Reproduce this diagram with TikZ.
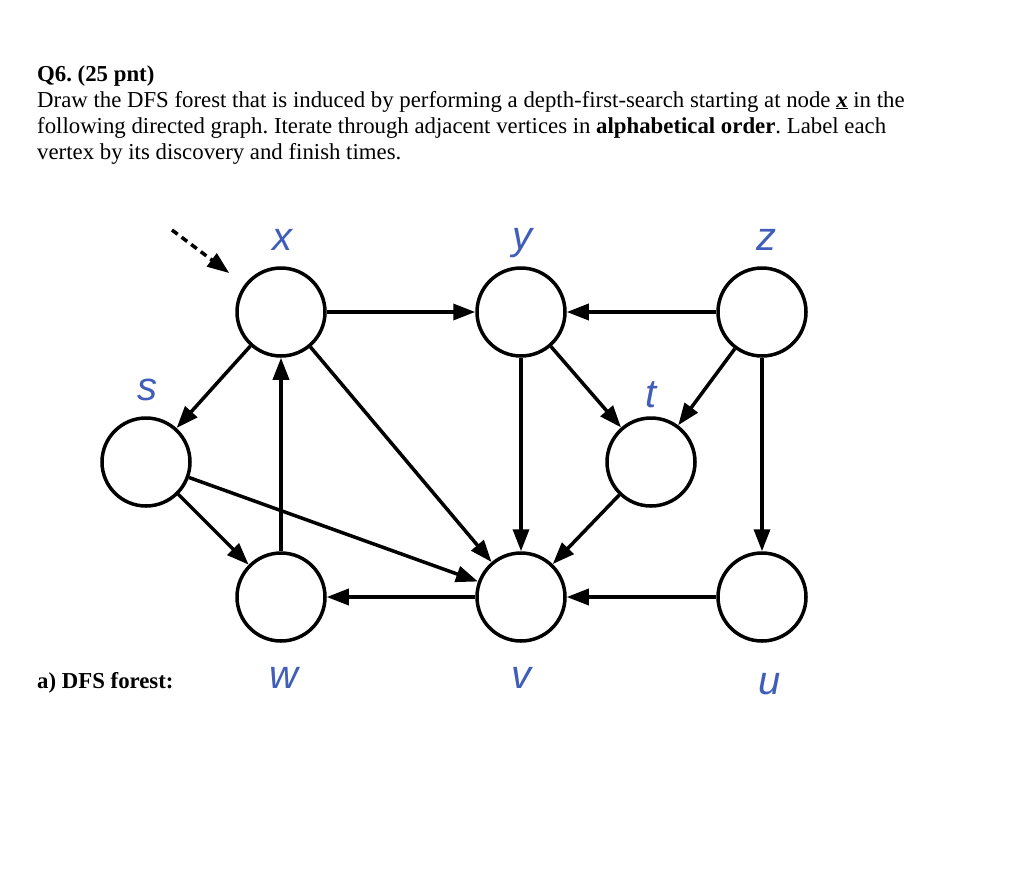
\documentclass[tikz,border=0pt]{standalone}
\usepackage{fontspec}
\setmainfont{Liberation Serif}
\newfontfamily\labelfont{Liberation Sans}
\usetikzlibrary{arrows.meta}
\definecolor{labelblue}{HTML}{3F5DB9}
\frenchspacing

\begin{document}
\begin{tikzpicture}[x=1pt,y=-1pt,>={Triangle[length=22pt,width=16pt]},
  vertex/.style={draw,circle,line width=3.5pt,minimum size=88pt,inner sep=0pt},
  edge/.style={->,line width=3.5pt},
  vlabel/.style={anchor=base,text=labelblue,inner sep=0pt,font=\labelfont\itshape\fontsize{40}{40}\selectfont},
  qtext/.style={anchor=base west,inner sep=0pt,font=\fontsize{22.8}{26}\selectfont}]
\useasboundingbox (0,0) rectangle (1024,876);

% question text
\node[qtext] (q1) at (37,81) {\textbf{Q6. (25 pnt)}};
\node[qtext] (q2) at (37,107) {Draw the DFS forest that is induced by performing a depth-first-search starting at node \underline{\textbf{\textit{x}}} in the};
\node[qtext] (q3) at (37,133) {following directed graph. Iterate through adjacent vertices in \textbf{alphabetical order}. Label each};
\node[qtext] (q4) at (37,159) {vertex by its discovery and finish times.};
\node[qtext] (qa) at (37,688) {\textbf{a) DFS forest:}};

% vertices
\node[vertex] (x) at (281,312) {};
\node[vertex] (y) at (521,312) {};
\node[vertex] (z) at (762,312) {};
\node[vertex] (s) at (146,462) {};
\node[vertex] (t) at (651,462) {};
\node[vertex] (w) at (281,597) {};
\node[vertex] (v) at (521,597) {};
\node[vertex] (u) at (762,597) {};

% vertex names
\node[vlabel] (lx) at (282,250) {x};
\node[vlabel] (ly) at (522,249) {y};
\node[vlabel] (lz) at (766,250) {z};
\node[vlabel] (ls) at (147,400) {s};
\node[vlabel] (lt) at (651,407) {t};
\node[vlabel] (lw) at (284,688) {w};
\node[vlabel] (lv) at (521,688) {v};
\node[vlabel] (lu) at (770,694) {u};

% start marker
\coordinate (start) at (172,230);
\draw[->,line width=3.5pt,dash pattern=on 7pt off 5pt,shorten >=19pt] (start) -- (x);

% edges
\draw[edge] (x)--(y);
\draw[edge] (z)--(y);
\draw[edge] (x)--(s);
\draw[edge] (w)--(x);
\draw[edge] (x)--(v);
\draw[edge] (y)--(v);
\draw[edge] (y)--(t);
\draw[edge] (z)--(t);
\draw[edge] (z)--(u);
\draw[edge] (s)--(w);
\draw[edge] (s)--(v);
\draw[edge] (t)--(v);
\draw[edge] (v)--(w);
\draw[edge] (u)--(v);
\end{tikzpicture}
\end{document}
